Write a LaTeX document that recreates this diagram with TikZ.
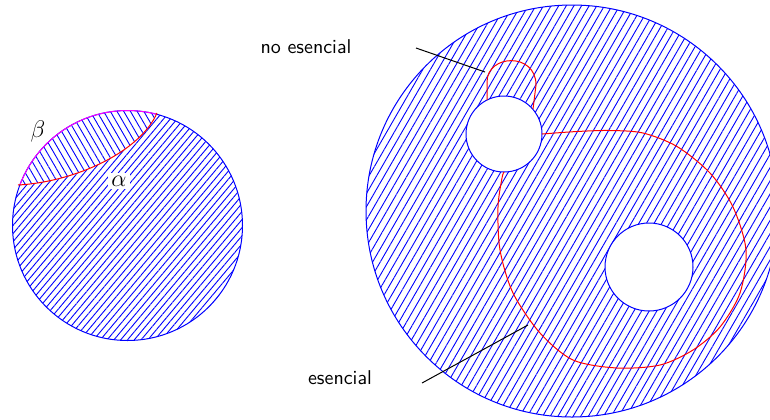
\documentclass[tikz,border=0pt]{standalone}
\usepackage{tikz}
\usetikzlibrary{patterns.meta}
\definecolor{HatchBlue}{HTML}{0000FF}
\definecolor{CurveRed}{HTML}{FF0000}
\definecolor{CurvePink}{HTML}{FF00FF}

\begin{document}
\begin{tikzpicture}[
    x=0.5pt,y=-0.5pt,font=\sffamily\fontsize{10}{12}\selectfont,
    rim/.style={draw=HatchBlue,line width=0.5pt},
    loop/.style={draw=CurveRed,line width=0.5pt},
    leader/.style={draw=black,line width=0.5pt},
    hatchA/.style={pattern={Lines[angle=50,distance=2.6pt,line width=0.45pt]},pattern color=HatchBlue},
    hatchB/.style={pattern={Lines[angle=-60,distance=2.9pt,line width=0.45pt]},pattern color=HatchBlue},
    hatchD/.style={pattern={Lines[angle=60,distance=3.3pt,line width=0.45pt]},pattern color=HatchBlue},
    greek/.style={font=\large,inner sep=1.5pt}
  ]
    \useasboundingbox (0,0) rectangle (770,419);

    % left disk, split by the curve
    \coordinate (ball) at (127.5,225.5);
    \fill[hatchA] (ball) circle (115);
    \begin{scope}
      \clip (ball) circle (115);
      \fill[white] (18,185) .. controls (75,182) and (140,152) .. (157,113) -- (200,60) -- (0,60) -- cycle;
      \fill[hatchB] (18,185) .. controls (75,182) and (140,152) .. (157,113) -- (200,60) -- (0,60) -- cycle;
    \end{scope}
    \draw[rim] (ball) circle (115);
    \begin{scope}
      \clip (18,185) .. controls (75,182) and (140,152) .. (157,113) -- (200,60) -- (0,60) -- cycle;
      \draw[rim,draw=CurvePink] (ball) circle (115);
    \end{scope}
    \draw[loop] (18,185) .. controls (75,182) and (140,152) .. (157,113);
    \node[greek,fill=white] (alpha) at (119,181) {$\alpha$};
    \node[greek] (beta) at (38,131) {$\beta$};

    % right disk with two holes
    \coordinate (disk) at (572,211);
    \coordinate (holeA) at (504,134);
    \coordinate (holeB) at (649,267);
    \fill[hatchD,even odd rule] (disk) circle (206) (holeA) circle (38) (holeB) circle (44);
    \draw[rim] (disk) circle (206);
    \draw[rim] (holeA) circle (38);
    \draw[rim] (holeB) circle (44);

    \draw[loop] (487,100) -- (487,82) .. controls (487,54) and (536,52) .. (536,85) -- (533,109);
    \draw[loop] plot[smooth] coordinates {(542,134) (577,131.5) (610,130.5) (643,133) (677,146.5)
      (710,173) (733,207) (746,250) (740,293) (720,327) (693,350) (660,365) (617,368)
      (573,360) (540,333) (513,293) (500,250) (498,207) (502,178) (504,172)};

    % labels
    \node (noess) at (306,47) {no esencial};
    \node (ess) at (340,378) {esencial};
    \coordinate (noessA) at (416,48);
    \coordinate (noessB) at (485,72);
    \coordinate (essA) at (422,383);
    \coordinate (essB) at (528,325);
    \draw[leader] (noessA) -- (noessB);
    \draw[leader] (essA) -- (essB);
\end{tikzpicture}
\end{document}
